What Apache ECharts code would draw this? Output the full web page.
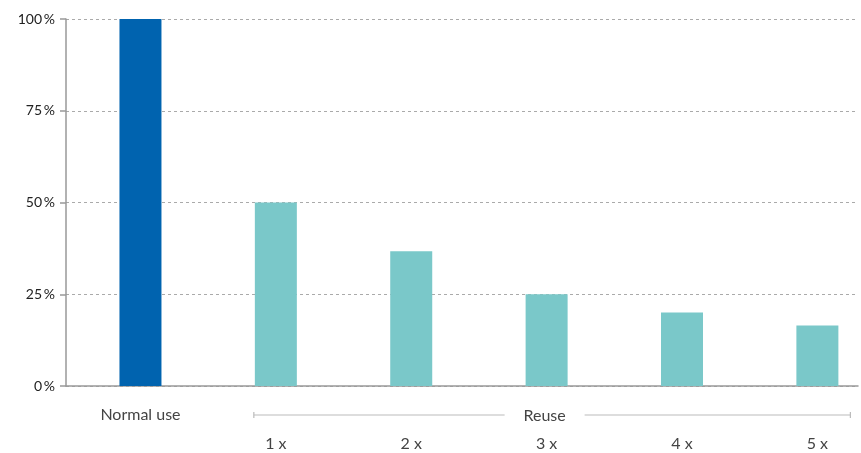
<!DOCTYPE html>
<html>
<head>
<meta charset="utf-8">
<script src="https://cdn.jsdelivr.net/npm/echarts@6/dist/echarts.min.js"></script>
<style>
html,body{margin:0;padding:0;background:#fff;}
#chart{width:861px;height:453px;}
</style>
</head>
<body>
<div id="chart"></div>
<script>
// ---- data ----
var categories = ['Normal use', '1 x', '2 x', '3 x', '4 x', '5 x'];
var groups = ['normal', 'reuse', 'reuse', 'reuse', 'reuse', 'reuse'];
var values = [100, 50, 36.7, 25, 20, 16.5];
var yTicks = [0, 25, 50, 75, 100];
var groupLabel = 'Reuse';

var colorMap = { normal: '#0063AF', reuse: '#7AC8C9' };
var FONT = 'Lato, "Noto Sans", sans-serif';

var chart = echarts.init(document.getElementById('chart'), null, { renderer: 'canvas' });

var seriesData = values.map(function (v, i) {
  return {
    value: [i, v],
    itemStyle: { color: colorMap[groups[i]] },
    label: { distance: groups[i] === 'normal' ? 21 : 50 }
  };
});

var option = {
  animation: false,
  backgroundColor: '#fff',
  grid: { left: 66, right: 3, top: 19, bottom: 67, containLabel: false },
  xAxis: {
    type: 'value',
    min: -0.55,
    max: 5.3,
    axisLine: { show: true, onZero: false, lineStyle: { color: '#999', width: 1.5 } },
    axisTick: { show: false },
    axisLabel: { show: false },
    splitLine: { show: false }
  },
  yAxis: {
    type: 'value',
    min: yTicks[0],
    max: yTicks[yTicks.length - 1],
    interval: 25,
    axisLine: { show: true, onZero: false, lineStyle: { color: '#999', width: 1.5 } },
    axisTick: { show: true, length: 6, lineStyle: { color: '#999', width: 1.5 } },
    axisLabel: {
      margin: 11,
      color: '#222',
      fontFamily: FONT,
      fontSize: 14,
      formatter: function (v) { return v + '\u2009%'; }
    },
    splitLine: { show: true, lineStyle: { color: '#aaa', type: [3, 3], width: 1 } }
  },
  series: [{
    type: 'bar',
    barWidth: 42,
    data: seriesData,
    label: {
      show: true,
      position: 'bottom',
      color: '#444',
      fontFamily: FONT,
      fontSize: 16,
      formatter: function (p) { return categories[p.dataIndex]; }
    }
  }]
};
chart.setOption(option);

// Group bracket ("Reuse") under the reuse categories
var firstReuse = groups.indexOf('reuse');
var lastReuse = groups.lastIndexOf('reuse');
var pL = chart.convertToPixel({ gridIndex: 0 }, [firstReuse, 0]);
var pR = chart.convertToPixel({ gridIndex: 0 }, [lastReuse, 0]);
var x1 = pL[0] - 22, x2 = pR[0] + 33, yb = 415;
var textMid = (pL[0] + pR[0]) / 2 - 2;
var gap = 40;
var lineStyle = { stroke: '#bbb', lineWidth: 1.2 };
chart.setOption({
  graphic: [
    { type: 'line', shape: { x1: x1, y1: yb, x2: textMid - gap, y2: yb }, style: lineStyle, silent: true },
    { type: 'line', shape: { x1: textMid + gap, y1: yb, x2: x2, y2: yb }, style: lineStyle, silent: true },
    { type: 'line', shape: { x1: x1, y1: yb - 3, x2: x1, y2: yb + 3 }, style: lineStyle, silent: true },
    { type: 'line', shape: { x1: x2, y1: yb - 3, x2: x2, y2: yb + 3 }, style: lineStyle, silent: true },
    {
      type: 'text', x: textMid, y: yb + 1, silent: true,
      style: { text: groupLabel, fill: '#444', font: '16px ' + FONT, textAlign: 'center', textVerticalAlign: 'middle' }
    }
  ]
});
</script>
</body>
</html>
